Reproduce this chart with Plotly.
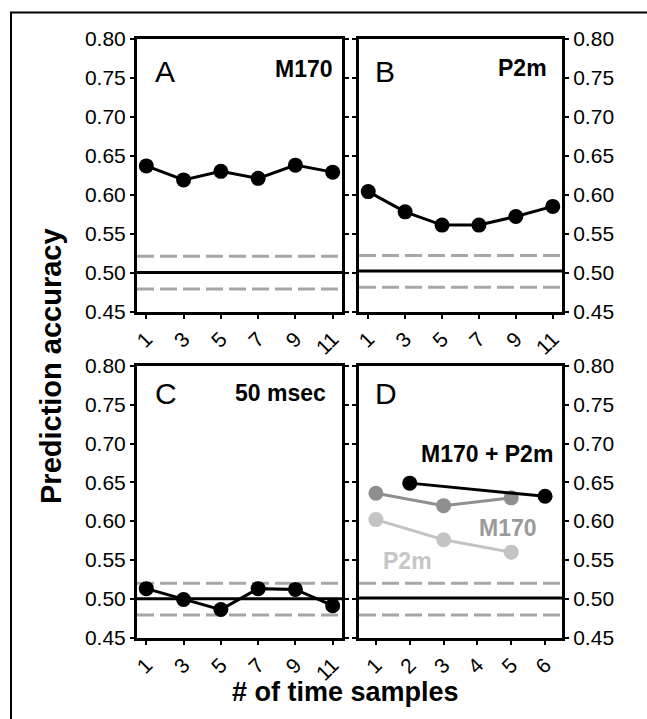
import plotly.graph_objects as go

FONT = "Liberation Sans, Arial, Helvetica, sans-serif"
W, H = 647, 719

# ---------------- data ----------------
samples_odd = [1, 3, 5, 7, 9, 11]
m170_acc = [0.637, 0.619, 0.630, 0.621, 0.638, 0.629]
p2m_acc = [0.604, 0.578, 0.561, 0.561, 0.572, 0.585]
ms50_acc = [0.513, 0.499, 0.486, 0.513, 0.512, 0.491]

d_combined_x = [2, 6]
d_combined_acc = [0.649, 0.632]
d_m170_x = [1, 3, 5]
d_m170_acc = [0.636, 0.620, 0.630]
d_p2m_x = [1, 3, 5]
d_p2m_acc = [0.602, 0.576, 0.560]

# chance line and its bounds, per panel (A, B, C, D)
chance_level = [0.500, 0.502, 0.500, 0.501]
upper_bound = [0.521, 0.522, 0.520, 0.520]
lower_bound = [0.479, 0.481, 0.479, 0.479]

y_ticks = [0.45, 0.50, 0.55, 0.60, 0.65, 0.70, 0.75, 0.80]
d_ticks = [1, 2, 3, 4, 5, 6]

panel_letters = ["A", "B", "C", "D"]
panel_names = ["M170", "P2m", "50 msec", ""]

# ---------------- layout helpers ----------------
def px_x(p):
    return p / W

def px_y(p):
    return 1 - p / H

col_dom = [[px_x(137), px_x(342)], [px_x(359), px_x(562)]]
row_dom = [[px_y(311.5), px_y(39)], [px_y(637.5), px_y(366)]]

fig = go.Figure()

BLACK = "#000000"
MID = "#8f8f8f"
LIGHT = "#c4c4c4"
DASH = "#a6a6a6"

def add_series(x, y, axis_idx, color, size=15):
    sfx = "" if axis_idx == 1 else str(axis_idx)
    fig.add_trace(go.Scatter(
        x=x, y=y, mode="lines+markers",
        line=dict(color=color, width=3),
        marker=dict(color=color, size=size, line=dict(width=0)),
        xaxis="x" + sfx, yaxis="y" + sfx, showlegend=False,
        hoverinfo="skip"))

add_series(samples_odd, m170_acc, 1, BLACK)
add_series(samples_odd, p2m_acc, 2, BLACK)
add_series(samples_odd, ms50_acc, 3, BLACK)
add_series(d_m170_x, d_m170_acc, 4, MID)
add_series(d_p2m_x, d_p2m_acc, 4, LIGHT)
add_series(d_combined_x, d_combined_acc, 4, BLACK)

layout = dict(
    width=W, height=H,
    margin=dict(l=0, r=0, t=0, b=0),
    paper_bgcolor="white", plot_bgcolor="white",
    template="none",
    font=dict(family=FONT, color="black", size=21),
    showlegend=False,
)

for i in range(4):
    r, c = divmod(i, 2)
    sfx = "" if i == 0 else str(i + 1)
    xkey = "xaxis" + sfx
    ykey = "yaxis" + sfx
    if i < 3:
        xr = [0.5, 11.5]
        xt = samples_odd
    else:
        xr = [0.5, 6.5]
        xt = d_ticks
    layout[xkey] = dict(
        domain=col_dom[c], anchor="y" + sfx, range=xr,
        tickmode="array", tickvals=xt, ticktext=[str(v) for v in xt],
        tickangle=-45, ticks="outside", ticklen=4, tickwidth=2,
        tickcolor="black", showline=True, linecolor="black", linewidth=3,
        mirror=True, showgrid=False, zeroline=False,
        tickfont=dict(family=FONT, size=21, color="black"),
        fixedrange=True,
    )
    layout[ykey] = dict(
        domain=row_dom[r], anchor="x" + sfx, range=[0.45, 0.80],
        tickmode="array", tickvals=y_ticks,
        ticktext=["%.2f" % v for v in y_ticks],
        side="left" if c == 0 else "right",
        ticks="outside", ticklen=4, tickwidth=2, tickcolor="black",
        showline=True, linecolor="black", linewidth=3, mirror="ticks",
        showgrid=False, zeroline=False,
        tickfont=dict(family=FONT, size=21, color="black"),
        fixedrange=True,
    )

fig.update_layout(**layout)

shapes = []
for i in range(4):
    sfx = "" if i == 0 else str(i + 1)
    xd = "x" + sfx + " domain"
    yr = "y" + sfx
    for val in (upper_bound[i], lower_bound[i]):
        shapes.append(dict(type="line", xref=xd, yref=yr, x0=0, x1=1,
                           y0=val, y1=val, layer="below",
                           line=dict(color=DASH, width=3, dash="17px,6px")))
    shapes.append(dict(type="line", xref=xd, yref=yr, x0=0, x1=1,
                       y0=chance_level[i], y1=chance_level[i], layer="below",
                       line=dict(color="black", width=3)))

# outer frame
shapes.append(dict(type="rect", xref="paper", yref="paper",
                   x0=px_x(11), x1=px_x(660), y0=px_y(730), y1=px_y(12.5),
                   line=dict(color="black", width=2), fillcolor="rgba(0,0,0,0)",
                   layer="above"))
fig.update_layout(shapes=shapes)

ann = []
def label(text, x, y, size, xanchor, color="black", bold=False, angle=0):
    ann.append(dict(text=text, xref="paper", yref="paper", x=x, y=y,
                    xanchor=xanchor, yanchor="middle", showarrow=False,
                    textangle=angle,
                    font=dict(family=FONT, size=size, color=color,
                              weight="bold" if bold else "normal")))

letter_pos = [(153, 71), (373, 71), (153, 393), (373, 393)]
for i, (lx, ly) in enumerate(letter_pos):
    label(panel_letters[i], px_x(lx), px_y(ly), 30, "left")

name_pos = [(335, 69), (549, 68), (328, 393)]
for i, (nx, ny) in enumerate(name_pos):
    label(panel_names[i], px_x(nx), px_y(ny), 23, "right", bold=True)

label("M170 + P2m", px_x(555), px_y(454), 23, "right", bold=True)
label("M170", px_x(508), px_y(528), 23, "center", color="#999999", bold=True)
label("P2m", px_x(408), px_y(561), 23, "center", color="#c6c6c6", bold=True)

label("Prediction accuracy", px_x(51), px_y(366), 29, "center", bold=True, angle=-90)
label("# of time samples", px_x(345), px_y(692), 27, "center", bold=True)

fig.update_layout(annotations=ann)

fig.write_html("out.html")
